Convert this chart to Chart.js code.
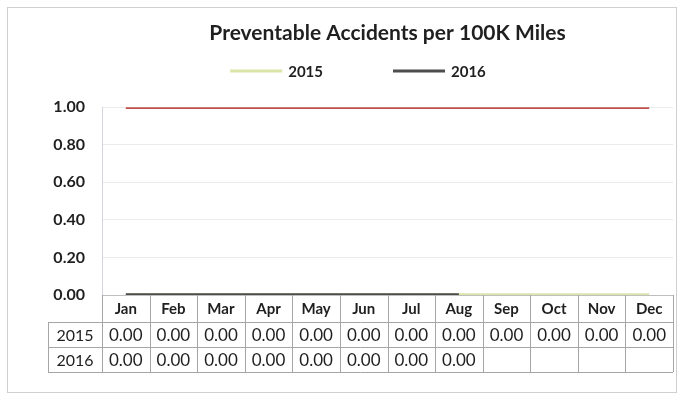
<!DOCTYPE html>
<html>
<head>
<meta charset="utf-8">
<script src="https://cdn.jsdelivr.net/npm/chart.js@4.4.1/dist/chart.umd.min.js"></script>
<style>
  html, body { margin: 0; padding: 0; background: #fff; }
  #wrap { position: relative; width: 683px; height: 402px; }
</style>
</head>
<body>
<div id="wrap"><canvas id="accidents-chart"></canvas></div>
<script>
// Datos del gráfico
var months = ['Jan', 'Feb', 'Mar', 'Apr', 'May', 'Jun', 'Jul', 'Aug', 'Sep', 'Oct', 'Nov', 'Dec']
var rate2015 = [0, 0, 0, 0, 0, 0, 0, 0, 0, 0, 0, 0]
var rate2016 = [0, 0, 0, 0, 0, 0, 0, 0, null, null, null, null]
var goal = [1, 1, 1, 1, 1, 1, 1, 1, 1, 1, 1, 1]
var yTicks = [0, 0.2, 0.4, 0.6, 0.8, 1.0]

var FONT = 'Lato, "Open Sans", sans-serif'

// Leyenda propia (2015, 2016) con más espacio entre elementos
var lineLegendPlugin = {
  id: 'lineLegend',
  afterDraw: function (chart) {
    var ctx = chart.ctx
    var items = ['2015', '2016'].map(function (name) {
      return chart.data.datasets.find(function (d) { return d.label === name })
    })
    var swatch = 52, gap = 6, between = 70, y = 71
    ctx.save()
    ctx.font = 'bold 15px ' + FONT
    var total = 0
    items.forEach(function (d, i) {
      total += swatch + gap + ctx.measureText(d.label).width + (i ? 0 : between)
    })
    var x = 358 - total / 2
    ctx.textBaseline = 'middle'
    ctx.textAlign = 'left'
    items.forEach(function (d) {
      ctx.fillStyle = d.borderColor
      ctx.fillRect(x, y - 1.5, swatch, 3)
      x += swatch + gap
      ctx.fillStyle = '#1f1f1f'
      ctx.fillText(d.label, x, y + 1)
      x += ctx.measureText(d.label).width + between
    })
    ctx.restore()
  }
}

// Tabla de datos debajo del eje X
var dataTablePlugin = {
  id: 'dataTable',
  afterDraw: function (chart) {
    var ctx = chart.ctx
    var x = chart.scales.x
    var area = chart.chartArea
    var cellW = (x.right - x.left) / months.length
    var labelLeft = 48
    var rowTop = [area.bottom, area.bottom + 27, area.bottom + 52, area.bottom + 77]
    var rows = [['2015', rate2015], ['2016', rate2016]]

    ctx.save()
    ctx.strokeStyle = '#a6a6a6'
    ctx.lineWidth = 1

    for (var i = 0; i <= months.length; i++) {
      var vx = Math.round(x.left + i * cellW) + 0.5
      ctx.beginPath()
      ctx.moveTo(vx, rowTop[0])
      ctx.lineTo(vx, rowTop[3])
      ctx.stroke()
    }
    ctx.beginPath()
    ctx.moveTo(labelLeft + 0.5, rowTop[1])
    ctx.lineTo(labelLeft + 0.5, rowTop[3])
    ctx.stroke()
    for (var r = 1; r < rowTop.length; r++) {
      ctx.beginPath()
      ctx.moveTo(labelLeft, Math.round(rowTop[r]) + 0.5)
      ctx.lineTo(x.right, Math.round(rowTop[r]) + 0.5)
      ctx.stroke()
    }

    ctx.fillStyle = '#1f1f1f'
    ctx.textAlign = 'center'
    ctx.textBaseline = 'middle'
    rows.forEach(function (row, ri) {
      var cy = (rowTop[ri + 1] + rowTop[ri + 2]) / 2 + 1
      ctx.font = '16px ' + FONT
      ctx.fillText(row[0], (labelLeft + x.left) / 2, cy)
      ctx.font = '17px ' + FONT
      row[1].forEach(function (v, ci) {
        if (v === null) return
        ctx.fillText(v.toFixed(2), x.getPixelForTick(ci), cy)
      })
    })

    // marco exterior
    ctx.strokeStyle = '#d0d0d0'
    ctx.strokeRect(7.5, 7.5, 669, 385)
    ctx.restore()
  }
}

var chartCtx = document.getElementById('accidents-chart').getContext('2d')

var accidentsChart = new Chart(chartCtx, {
  type: 'line',
  data: {
    labels: months,
    datasets: [
      {
        label: 'Goal',
        data: goal,
        borderColor: '#c0504d',
        borderWidth: 3.5,
        pointRadius: 0
      },
      {
        label: '2016',
        data: rate2016,
        borderColor: '#4d4d4d',
        borderWidth: 3.5,
        pointRadius: 0
      },
      {
        label: '2015',
        data: rate2015,
        borderColor: '#dae5a8',
        borderWidth: 3.5,
        pointRadius: 0
      }
    ]
  },
  options: {
    responsive: true,
    maintainAspectRatio: false,
    animation: false,
    devicePixelRatio: 1,
    layout: {
      padding: { top: 8, left: 40, right: 10, bottom: 30 }
    },
    plugins: {
      title: {
        display: true,
        text: 'Preventable Accidents per 100K Miles',
        color: '#1f1f1f',
        fullSize: false,
        font: { family: FONT, size: 21, weight: 'bold' },
        padding: { top: 13, bottom: 61 }
      },
      legend: { display: false },
      tooltip: { enabled: false }
    },
    scales: {
      x: {
        offset: true,
        grid: { display: false, drawTicks: false },
        border: { color: '#bfbfbf' },
        ticks: {
          color: '#1f1f1f',
          padding: 5,
          maxRotation: 0,
          autoSkip: false,
          font: { family: FONT, size: 15, weight: 'bold' }
        },
        afterFit: function (scale) { scale.height = 77 }
      },
      y: {
        min: 0,
        max: 1,
        afterBuildTicks: function (scale) {
          scale.ticks = yTicks.map(function (v) { return { value: v } })
        },
        grid: { color: '#ebebeb', drawTicks: false },
        border: { color: '#d4d4dc' },
        ticks: {
          color: '#1f1f1f',
          padding: 17,
          font: { family: FONT, size: 16, weight: 'bold' },
          callback: function (v) { return Number(v).toFixed(2) }
        },
        afterFit: function (scale) { scale.width = 62 }
      }
    }
  },
  plugins: [dataTablePlugin, lineLegendPlugin]
})
</script>
</body>
</html>
